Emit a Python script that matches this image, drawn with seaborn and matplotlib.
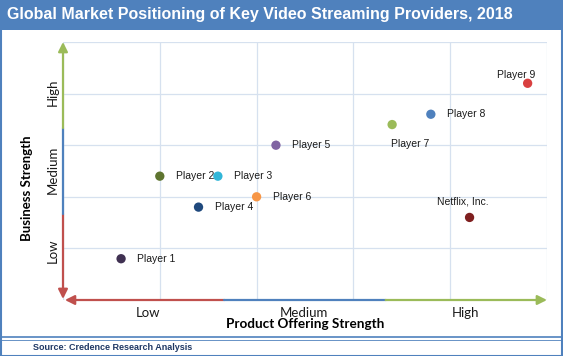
import matplotlib
matplotlib.use("Agg")
import matplotlib.pyplot as plt
from matplotlib.patches import Rectangle
import seaborn as sns
import pandas as pd

players = ["Player 1", "Player 2", "Player 3", "Player 4", "Player 5",
           "Player 6", "Player 7", "Player 8", "Player 9", "Netflix, Inc."]
product_strength = [0.6, 1.0, 1.6, 1.4, 2.2, 2.0, 3.4, 3.8, 4.8, 4.2]
business_strength = [0.8, 2.4, 2.4, 1.8, 3.0, 2.0, 3.4, 3.6, 4.2, 1.6]
colors = ["#403152", "#5f7530", "#31b6d8", "#1f497d", "#8064a2",
          "#f79646", "#9bbb59", "#4f81bd", "#d94040", "#7f1f1f"]
x_tick_labels = ["Low", "Medium", "High"]
x_tick_pos = [0.88, 2.49, 4.16]
y_tick_labels = ["Low", "Medium", "High"]
y_tick_pos = [0.95, 2.52, 4.03]

# label offsets in pixels (dx, dy) and alignment
label_offsets = {
    "Player 7": (18, -19, "center"),
    "Player 9": (-11, 8, "center"),
    "Netflix, Inc.": (-7, 16, "center"),
}

df = pd.DataFrame({"player": players, "x": product_strength, "y": business_strength})

sns.set_theme(style="white")
plt.rcParams["font.family"] = ["Liberation Sans", "DejaVu Sans"]

W, H = 563, 356
fig = plt.figure(figsize=(W / 100, H / 100), dpi=100)
fig.patch.set_facecolor("white")

blue_frame = "#4f81bd"
# title bar
fig.patches.append(Rectangle((0, 1 - 30 / H), 1, 30 / H, transform=fig.transFigure,
                             facecolor=blue_frame, edgecolor="none", zorder=0))
fig.text(7 / W, 1 - 15 / H, "Global Market Positioning of Key Video Streaming Providers, 2018",
         color="white", fontsize=11.5, fontweight="bold", va="center", ha="left",
         family=["Liberation Sans", "DejaVu Sans"])
# outer border
fig.patches.append(Rectangle((0.5 / W, 0.5 / H), 1 - 1.5 / W, 1 - 1.5 / H, transform=fig.transFigure,
                             facecolor="none", edgecolor=blue_frame, lw=1.5, zorder=5))
# source separator
fig.add_artist(plt.Line2D([0, 1], [1 - 337 / H, 1 - 337 / H], transform=fig.transFigure,
                          color=blue_frame, lw=1.2))
fig.add_artist(plt.Line2D([0, 1], [1 - 340 / H, 1 - 340 / H], transform=fig.transFigure,
                          color=blue_frame, lw=0.6))
fig.text(33 / W, 1 - 348 / H, "Source: Credence Research Analysis", color="#1f3864",
         fontsize=6.5, fontweight="bold", va="center", ha="left")

ax = fig.add_axes([63 / W, 1 - 300 / H, (547 - 63) / W, (300 - 42) / H])
ax.set_xlim(0, 5)
ax.set_ylim(0, 5)

sns.scatterplot(data=df, x="x", y="y", hue="player", palette=colors, s=45,
                edgecolor="none", legend=False, ax=ax, zorder=4, clip_on=False)

for name, xv, yv in zip(players, product_strength, business_strength):
    dx, dy, ha = label_offsets.get(name, (16, 0, "left"))
    ax.annotate(name, (xv, yv), xytext=(dx, dy), textcoords="offset pixels",
                ha=ha, va="center", fontsize=7.5, color="#1a1a1a", zorder=5)

# grid
ax.set_xticks(range(6), minor=True)
ax.set_yticks(range(6), minor=True)
ax.grid(which="minor", color="#d6e1ef", lw=0.9)
ax.grid(which="major", visible=False)
ax.set_xticks(x_tick_pos)
ax.set_xticklabels(x_tick_labels, fontsize=9.5, family=["Lato", "DejaVu Sans"])
ax.set_yticks(y_tick_pos)
ax.set_yticklabels(y_tick_labels, fontsize=9.5, rotation=90, va="center",
                   family=["Lato", "DejaVu Sans"])
ax.tick_params(axis="x", which="both", length=0, pad=5, colors="#1a1a1a")
ax.tick_params(axis="y", which="both", length=0, pad=3, colors="#1a1a1a")
for s in ax.spines.values():
    s.set_visible(False)
ax.set_xlabel("Product Offering Strength", fontsize=9.7, fontweight="bold",
              family=["Lato", "DejaVu Sans"], labelpad=-1, color="black")
ax.set_ylabel("Business Strength", fontsize=9.5, fontweight="bold",
              family=["Lato", "DejaVu Sans"], color="black")
ax.yaxis.set_label_coords(-0.062, 0.434)

red, blu, grn = "#c0504d", "#4f81bd", "#9bbb59"
third = 5 / 3
ap = dict(arrowstyle="-|>", lw=1.6, mutation_scale=14, shrinkA=0, shrinkB=0)
# y axis
ax.annotate("", xy=(0, 0.02), xytext=(0, third), arrowprops=dict(color=red, **ap), annotation_clip=False)
ax.plot([0, 0], [third, 2 * third], color=blu, lw=1.6, clip_on=False, zorder=3)
ax.annotate("", xy=(0, 5), xytext=(0, 2 * third), arrowprops=dict(color=grn, **ap), annotation_clip=False)
# x axis
ax.annotate("", xy=(0.02, 0), xytext=(third, 0), arrowprops=dict(color=red, **ap), annotation_clip=False)
ax.plot([third, 2 * third], [0, 0], color=blu, lw=1.6, clip_on=False, zorder=3)
ax.annotate("", xy=(5, 0), xytext=(2 * third, 0), arrowprops=dict(color=grn, **ap), annotation_clip=False)

fig.savefig("out.png", dpi=100, facecolor="white")
